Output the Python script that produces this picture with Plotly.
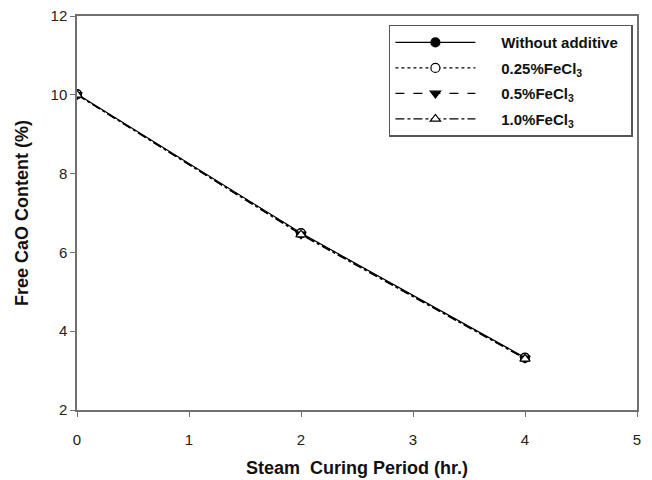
import plotly.graph_objects as go

period = [0, 2, 4]
without_additive = [10.02, 6.49, 3.33]
fecl3_025 = [10.01, 6.48, 3.32]
fecl3_05 = [10.0, 6.46, 3.31]
fecl3_10 = [10.0, 6.45, 3.30]

series = [
    ("Without additive", without_additive, "solid", "circle", "black"),
    ("0.25%FeCl<sub>3</sub>", fecl3_025, "dot", "circle", "white"),
    ("0.5%FeCl<sub>3</sub>", fecl3_05, "dash", "triangle-down", "black"),
    ("1.0%FeCl<sub>3</sub>", fecl3_10, "dashdot", "triangle-up", "white"),
]

fig = go.Figure()
for i, (name, vals, dash, sym, col) in enumerate(series):
    label = "&nbsp;&nbsp;&nbsp;&nbsp;&nbsp;<b>" + name + "</b>"
    if i == 0:
        label += "&nbsp;&nbsp;"
    fig.add_trace(go.Scatter(
        x=period, y=vals, name=label,
        mode="lines+markers", legendgroup="g%d" % i,
        line=dict(color="black", width=1.2, dash=dash),
        marker=dict(symbol=sym, size=9, color=col, line=dict(color="black", width=1.2)),
    ))

axis_common = dict(
    showline=True, linecolor="#707070", linewidth=1.5, mirror=True,
    ticks="outside", ticklen=5, tickcolor="#707070", tickwidth=1.2,
    showgrid=False, zeroline=False, automargin=False,
    ticklabeloverflow="allow",
    tickfont=dict(family="Liberation Sans, Arial", size=15, color="#222222"),
)

# page body has an 8px margin, so the figure is shrunk by 8px and margins shifted
fig.update_layout(
    width=644, height=472,
    margin=dict(l=69, r=15, t=8, b=70, autoexpand=False),
    paper_bgcolor="white", plot_bgcolor="white",
    font=dict(family="Liberation Sans, Arial", color="#111111"),
    xaxis=dict(range=[0, 5], dtick=1, ticklabelstandoff=10,
               title=dict(text="<b>Steam&nbsp;&nbsp;Curing Period (hr.)</b>", font=dict(size=18), standoff=15),
               **axis_common),
    yaxis=dict(range=[2, 12], dtick=2, ticklabelstandoff=0,
               title=dict(text="<b>Free CaO Content (%)</b>", font=dict(size=18), standoff=17),
               **axis_common),
    legend=dict(
        x=0.557, y=0.978, xanchor="left", yanchor="top",
        bordercolor="#555555", borderwidth=1.5, bgcolor="white",
        font=dict(size=15, family="Liberation Sans, Arial"),
        itemwidth=80, tracegroupgap=3,
    ),
    showlegend=True,
)

fig.write_html("out.html")
